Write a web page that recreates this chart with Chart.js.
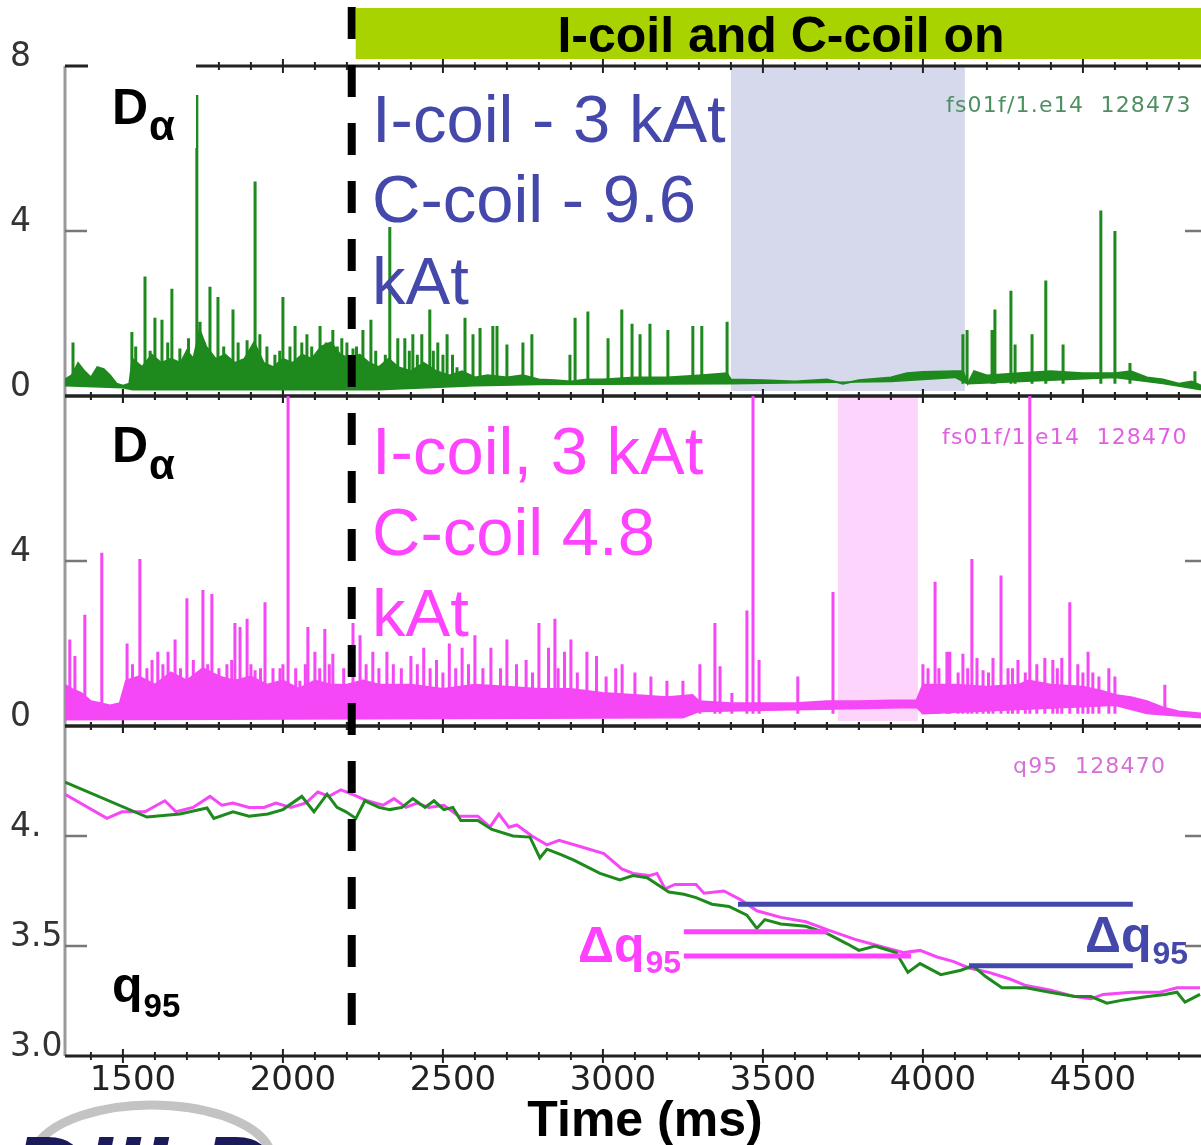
<!DOCTYPE html>
<html>
<head>
<meta charset="utf-8">
<title>D-alpha and q95 with I-coil / C-coil</title>
<script src="https://cdn.jsdelivr.net/npm/chart.js@4.4.1/dist/chart.umd.min.js"></script>
<style>
  body { margin: 0; background: #fff; }
  canvas { display: block; }
</style>
</head>
<body>
<canvas id="coilChart" width="1201" height="1145"></canvas>
<script>
// shared time axis (ms)
const timeRange = [1319, 4869];
const timeTicks = [1500, 2000, 2500, 3000, 3500, 4000, 4500];
const coilOnTime = 2215;

// D-alpha, shot 128473: lower / upper edge of the dense ELM band, then the spikes
const daTopLowT = [1319, 1500, 1530, 2300, 2600, 2800, 3400, 3900, 4100, 4140, 4600, 4750, 4869];
const daTopLowV = [0.25, 0.2, 0.15, 0.15, 0.25, 0.28, 0.3, 0.35, 0.45, 0.3, 0.45, 0.3, 0.15];
const daTopBandT = [1319, 1340, 1360, 1380, 1400, 1420, 1440, 1460, 1480, 1500, 1520, 1530, 1560, 1590, 1620, 1650,
  1680, 1700, 1720, 1740, 1760, 1790, 1820, 1850, 1880, 1910, 1940, 1970, 2000, 2030, 2060, 2090, 2120, 2150, 2180,
  2210, 2240, 2270, 2300, 2330, 2360, 2400, 2440, 2480, 2520, 2560, 2600, 2640, 2700, 2750, 2800, 2850, 2900, 2950,
  3000, 3100, 3200, 3300, 3388, 3400, 3500, 3600, 3700, 3750, 3800, 3900, 3950, 4000, 4100, 4125, 4140, 4160, 4200,
  4300, 4400, 4500, 4600, 4650, 4700, 4750, 4800, 4840, 4869];
const daTopBandV = [0.4, 0.5, 0.8, 0.6, 0.45, 0.7, 0.65, 0.5, 0.3, 0.25, 0.3, 0.9, 0.7, 1.0, 0.8, 0.9,
  0.8, 1.1, 0.9, 1.6, 1.2, 0.9, 1.0, 0.8, 0.9, 1.3, 0.8, 0.7, 0.9, 0.8, 1.0, 0.9, 1.2, 1.3, 1.0,
  0.9, 1.0, 0.8, 0.7, 0.9, 0.7, 0.6, 0.8, 0.6, 0.5, 0.6, 0.45, 0.5, 0.45, 0.5, 0.4, 0.38, 0.35, 0.4,
  0.4, 0.45, 0.45, 0.5, 0.55, 0.4, 0.38, 0.35, 0.4, 0.3, 0.38, 0.45, 0.55, 0.58, 0.6, 0.6, 0.3, 0.6, 0.5,
  0.55, 0.6, 0.55, 0.55, 0.6, 0.45, 0.4, 0.3, 0.35, 0.25];
const daTopSpikeT = [1344, 1528, 1569, 1600, 1622, 1653, 1678, 1731, 1741, 1772, 1797, 1844, 1888, 1913, 1928, 1975,
  2000, 2022, 2038, 2059, 2075, 2116, 2156, 2184, 2219, 2250, 2275, 2334, 2359, 2381, 2406, 2434, 2459, 2484, 2513,
  2544, 2569, 2594, 2616, 2656, 2669, 2700, 2750, 2778, 2897, 2913, 2953, 3016, 3059, 3091, 3116, 3147, 3203, 3281,
  3309, 3388, 4125, 4138, 4216, 4225, 4275, 4288, 4341, 4384, 4438, 4556, 4600, 4647, 4850];
const daTopSpikeV = [1.3, 1.55, 2.9, 1.9, 1.85, 2.6, 1.15, 7.3, 1.8, 2.65, 2.4, 2.1, 1.35, 5.2, 1.5, 1.0,
  2.4, 1.2, 1.7, 1.3, 1.5, 1.7, 1.6, 1.4, 1.15, 1.6, 1.85, 4.1, 1.4, 1.4, 1.5, 1.5, 2.1, 1.3, 1.5,
  0.7, 1.9, 1.5, 1.65, 1.7, 1.7, 1.25, 1.3, 1.5, 1.0, 1.9, 2.05, 1.4, 2.1, 1.75, 1.5, 1.75, 1.6, 1.7,
  1.7, 1.8, 1.5, 1.6, 1.6, 2.1, 2.55, 1.25, 1.5, 2.8, 1.25, 4.5, 4.0, 0.8, 0.6];
// small ELMs inside the band
const daTopSmallT = [1540, 1585, 1640, 1705, 1755, 1815, 1860, 1900, 1950, 1990, 2090, 2135, 2170, 2200, 2230,
  2290, 2320, 2395, 2420, 2470, 2500, 2530];
const daTopSmallV = [1.2, 1.1, 1.3, 1.4, 1.3, 1.2, 1.3, 1.1, 1.2, 1.1, 1.2, 1.3, 1.2, 1.3, 1.2,
  1.1, 1.0, 1.1, 1.0, 1.1, 1.0, 1.0];

// D-alpha, shot 128470 (I-coil 3 kAt, C-coil 4.8 kAt)
const daMidLowT = [1319, 3250, 3300, 3980, 4000, 4600, 4700, 4869];
const daMidLowV = [0.15, 0.2, 0.35, 0.45, 0.3, 0.5, 0.3, 0.2];
const daMidBandT = [1319, 1340, 1370, 1400, 1430, 1460, 1490, 1510, 1550, 1600, 1650, 1700, 1750, 1800, 1850, 1900,
  1950, 2000, 2050, 2100, 2150, 2200, 2250, 2300, 2400, 2500, 2600, 2700, 2800, 2900, 3000, 3100, 3200, 3280, 3300,
  3400, 3500, 3600, 3700, 3800, 3900, 3980, 4000, 4100, 4200, 4300, 4330, 4400, 4500, 4560, 4600, 4650, 4700, 4750,
  4800, 4869];
const daMidBandV = [1.0, 0.9, 0.8, 0.6, 0.55, 0.5, 0.55, 1.1, 1.2, 1.0, 1.3, 1.1, 1.4, 1.2, 1.1, 1.2,
  1.0, 1.1, 0.9, 1.1, 1.0, 1.0, 1.1, 1.0, 1.0, 0.9, 1.0, 0.95, 0.9, 0.9, 0.8, 0.75, 0.7, 0.75, 0.6,
  0.55, 0.55, 0.55, 0.6, 0.6, 0.62, 0.62, 1.0, 1.0, 0.95, 1.0, 1.1, 1.0, 0.95, 0.85, 0.75, 0.7, 0.6, 0.45,
  0.35, 0.3];
const daMidSpikeT = [1334, 1350, 1381, 1434, 1513, 1553, 1591, 1609, 1641, 1663, 1700, 1750, 1778, 1825, 1850, 1866,
  1888, 1913, 1944, 1969, 1991, 2016, 2053, 2078, 2100, 2131, 2156, 2219, 2241, 2281, 2325, 2400, 2440, 2480, 2520,
  2560, 2600, 2650, 2700, 2760, 2800, 2830, 2850, 2880, 2900, 2950, 2980, 3040, 3060, 3303, 3350, 3366, 3403, 3450,
  3469, 3488, 3609, 3719, 4000, 4016, 4038, 4075, 4084, 4125, 4153, 4169, 4188, 4219, 4244, 4266, 4297, 4334, 4356,
  4381, 4406, 4434, 4459, 4484, 4516, 4531, 4581, 4600, 4756];
const daMidSpikeV = [2.1, 1.7, 2.7, 4.2, 2.0, 4.05, 1.6, 1.8, 1.8, 2.1, 3.1, 3.3, 3.2, 1.5, 2.5, 2.4,
  2.6, 1.35, 3.0, 1.4, 1.4, 8.0, 1.1, 2.4, 1.8, 2.35, 1.75, 2.5, 2.2, 1.8, 1.8, 1.7, 1.9, 1.6, 2.0,
  1.9, 2.2, 1.9, 2.1, 1.6, 2.5, 1.9, 2.6, 1.8, 2.1, 1.8, 1.7, 1.4, 1.5, 1.5, 2.5, 1.45, 0.8, 2.8,
  8.0, 1.6, 1.2, 3.25, 1.5, 1.4, 3.5, 1.8, 1.8, 1.75, 4.05, 1.65, 1.35, 1.65, 3.65, 1.4, 1.6, 8.0, 1.5,
  1.65, 1.6, 1.65, 3.0, 1.5, 1.8, 1.3, 1.4, 1.2, 1.0];
const daMidSmallT = [1530, 1575, 1625, 1680, 1720, 1765, 1800, 1840, 1900, 1930, 2000, 2040, 2070, 2115, 2145,
  2190, 2260, 2300, 2345, 2370, 2420, 2460, 2500, 2540, 2580, 2625, 2680, 2730, 2780, 2860, 2920, 3010, 3100,
  3150, 3200, 3250, 4050, 4110, 4140, 4205, 4280, 4320, 4420, 4500, 4550];
const daMidSmallV = [1.5, 1.4, 1.5, 1.4, 1.6, 1.5, 1.4, 1.6, 1.5, 1.4, 1.5, 1.4, 1.5, 1.4, 1.5,
  1.4, 1.5, 1.4, 1.5, 1.4, 1.5, 1.4, 1.3, 1.4, 1.5, 1.4, 1.4, 1.5, 1.3, 1.4, 1.3, 1.2, 1.3,
  1.2, 1.1, 1.1, 1.4, 1.3, 1.4, 1.3, 1.4, 1.3, 1.4, 1.3, 1.2];

// q95 for both shots
const q95T_473 = [1319, 1575, 1678, 1763, 1784, 1844, 1894, 1953, 2000, 2059, 2097, 2138, 2169, 2197, 2228, 2256,
  2300, 2334, 2372, 2406, 2444, 2472, 2503, 2531, 2556, 2609, 2653, 2719, 2772, 2803, 2825, 2869, 2909, 2991, 3053,
  3094, 3138, 3206, 3253, 3291, 3341, 3394, 3450, 3481, 3506, 3556, 3634, 3697, 3763, 3800, 3850, 3916, 3953, 3991,
  4056, 4119, 4156, 4197, 4247, 4322, 4397, 4475, 4525, 4575, 4628, 4703, 4756, 4794, 4819, 4866];
const q95V_473 = [4.245, 4.086, 4.10, 4.127, 4.08, 4.11, 4.09, 4.10, 4.12, 4.18, 4.11, 4.19, 4.13, 4.11, 4.08, 4.16,
  4.13, 4.12, 4.13, 4.17, 4.13, 4.16, 4.12, 4.13, 4.07, 4.07, 4.03, 4.0, 3.995, 3.90, 3.94, 3.915, 3.89, 3.83, 3.80,
  3.82, 3.81, 3.745, 3.735, 3.72, 3.69, 3.68, 3.64, 3.58, 3.62, 3.60, 3.59, 3.56, 3.51, 3.48, 3.50, 3.47, 3.38, 3.42,
  3.37, 3.39, 3.41, 3.36, 3.31, 3.31, 3.29, 3.27, 3.27, 3.24, 3.255, 3.27, 3.28, 3.29, 3.245, 3.28];
const q95T_470 = [1319, 1450, 1497, 1569, 1631, 1666, 1719, 1772, 1809, 1844, 1894, 1941, 1978, 2025, 2072, 2109,
  2144, 2181, 2216, 2263, 2313, 2347, 2384, 2419, 2456, 2503, 2550, 2609, 2647, 2675, 2706, 2731, 2778, 2825, 2863,
  2934, 3003, 3059, 3094, 3144, 3169, 3194, 3225, 3291, 3316, 3378, 3431, 3481, 3556, 3634, 3709, 3788, 3863, 3941,
  3991, 4044, 4094, 4144, 4206, 4272, 4322, 4397, 4475, 4525, 4563, 4653, 4741, 4794, 4866];
const q95V_470 = [4.19, 4.08, 4.11, 4.11, 4.16, 4.11, 4.13, 4.18, 4.14, 4.15, 4.13, 4.13, 4.15, 4.13, 4.15, 4.20,
  4.18, 4.21, 4.19, 4.16, 4.14, 4.17, 4.13, 4.15, 4.13, 4.14, 4.09, 4.09, 4.04, 4.10, 4.04, 4.05, 4.00, 3.96, 3.98,
  3.95, 3.92, 3.85, 3.83, 3.82, 3.83, 3.76, 3.78, 3.78, 3.74, 3.75, 3.71, 3.66, 3.63, 3.61, 3.57, 3.53, 3.50, 3.47,
  3.48, 3.45, 3.43, 3.40, 3.38, 3.35, 3.32, 3.30, 3.27, 3.26, 3.28, 3.29, 3.29, 3.31, 3.31];

// delta-q95 markers (start ms, end ms, level)
const dqBlueStart = [3422, 4144];
const dqBlueEnd = [4656, 4656];
const dqBlueLevel = [3.69, 3.41];
const dqPinkStart = [3253, 3253];
const dqPinkEnd = [3703, 3963];
const dqPinkLevel = [3.565, 3.455];

// shaded comparison windows (ms)
const daTopWindow = [3400, 4131];
const daMidWindow = [3734, 3984];

const GREEN = '#1e8a1e';
const PINK = '#f547f5';
const BLUE = '#4448aa';

function toPoints(ts, vs) {
  return ts.map((t, i) => ({ x: t, y: vs[i] }));
}

// each spike is a vertical stroke from the band base, broken by a null
function spikePoints(ts, vs, base) {
  const pts = [];
  ts.forEach((t, i) => {
    pts.push({ x: t, y: base }, { x: t, y: vs[i] }, { x: t, y: null });
  });
  return pts;
}

function segPoints(starts, ends, levels) {
  const pts = [];
  starts.forEach((s, i) => {
    pts.push({ x: s, y: levels[i] }, { x: ends[i], y: levels[i] }, { x: ends[i], y: null });
  });
  return pts;
}

const lineBase = { pointRadius: 0, tension: 0, spanGaps: false, fill: false };

const datasets = [
  { ...lineBase, data: segPoints(dqBlueStart, dqBlueEnd, dqBlueLevel), yAxisID: 'yBot', borderColor: BLUE, borderWidth: 5 },
  { ...lineBase, data: segPoints(dqPinkStart, dqPinkEnd, dqPinkLevel), yAxisID: 'yBot', borderColor: '#ff40ff', borderWidth: 5 },
  { ...lineBase, data: toPoints(q95T_473, q95V_473), yAxisID: 'yBot', borderColor: GREEN, borderWidth: 3 },
  { ...lineBase, data: toPoints(q95T_470, q95V_470), yAxisID: 'yBot', borderColor: PINK, borderWidth: 3 },

  { ...lineBase, data: toPoints(daTopLowT, daTopLowV), yAxisID: 'yTop', borderColor: GREEN, borderWidth: 1.5 },
  { ...lineBase, data: toPoints(daTopBandT, daTopBandV), yAxisID: 'yTop', borderColor: GREEN, borderWidth: 2,
    fill: '-1', backgroundColor: GREEN },
  { ...lineBase, data: spikePoints(daTopSpikeT, daTopSpikeV, 0.3), yAxisID: 'yTop', borderColor: GREEN, borderWidth: 3 },
  { ...lineBase, data: spikePoints(daTopSmallT, daTopSmallV, 0.3), yAxisID: 'yTop', borderColor: GREEN, borderWidth: 3 },

  { ...lineBase, data: toPoints(daMidLowT, daMidLowV), yAxisID: 'yMid', borderColor: PINK, borderWidth: 1.5 },
  { ...lineBase, data: toPoints(daMidBandT, daMidBandV), yAxisID: 'yMid', borderColor: PINK, borderWidth: 2,
    fill: '-1', backgroundColor: PINK },
  { ...lineBase, data: spikePoints(daMidSpikeT, daMidSpikeV, 0.3), yAxisID: 'yMid', borderColor: PINK, borderWidth: 3 },
  { ...lineBase, data: spikePoints(daMidSmallT, daMidSmallV, 0.3), yAxisID: 'yMid', borderColor: PINK, borderWidth: 3 }
];

const tickFont = { family: 'DejaVu Sans', size: 33 };

function panelAxis(min, max, step, label) {
  return {
    type: 'linear',
    position: 'left',
    stack: 'panels',
    stackWeight: 1,
    min: min,
    max: max,
    grid: { display: false, drawTicks: false },
    border: { display: false },
    ticks: {
      stepSize: step,
      includeBounds: false,
      autoSkip: false,
      crossAlign: 'far',
      labelOffset: -9,
      padding: 0,
      color: '#333',
      font: tickFont,
      callback: label
    },
    afterFit: s => { s.width = 55; }
  };
}

function hline(ctx, x0, x1, y) {
  ctx.beginPath();
  ctx.moveTo(x0, y);
  ctx.lineTo(x1, y);
  ctx.stroke();
}

function vline(ctx, x, y0, y1) {
  ctx.beginPath();
  ctx.moveTo(x, y0);
  ctx.lineTo(x, y1);
  ctx.stroke();
}

// text with a subscript, e.g. D_alpha, q_95
function subText(ctx, main, sub, x, y, size, subSize, subDrop, color) {
  ctx.fillStyle = color;
  ctx.font = 'bold ' + size + 'px "Liberation Sans", Arial, sans-serif';
  ctx.fillText(main, x, y);
  const w = ctx.measureText(main).width;
  ctx.font = 'bold ' + subSize + 'px "Liberation Sans", Arial, sans-serif';
  ctx.fillText(sub, x + w + 1, y + subDrop);
}

const panelDeco = {
  id: 'panelDeco',
  beforeDatasetsDraw(chart) {
    const { ctx, chartArea: a, scales } = chart;
    const xs = scales.x;
    const panels = [scales.yTop, scales.yMid, scales.yBot];
    ctx.save();

    // shaded windows
    const shade = (win, ys, col) => {
      const x0 = xs.getPixelForValue(win[0]);
      const x1 = xs.getPixelForValue(win[1]);
      ctx.fillStyle = col;
      ctx.fillRect(x0, ys.top, x1 - x0, ys.bottom - ys.top - 5);
    };
    shade(daTopWindow, scales.yTop, '#d6d8eb');
    shade(daMidWindow, scales.yMid, '#fdd4fb');

    // left frame
    ctx.strokeStyle = '#9a9a9a';
    ctx.lineWidth = 3;
    vline(ctx, a.left, a.top, a.bottom);

    // panel top/bottom frame lines with time ticks
    ctx.strokeStyle = '#222';
    panels.forEach(ys => {
      [ys.top, ys.bottom].forEach(y => {
        ctx.lineWidth = 3;
        hline(ctx, a.left, a.right, y);
        ctx.lineWidth = 2;
        for (let t = 1400; t <= 4800; t += 100) {
          const px = xs.getPixelForValue(t);
          const len = t % 500 === 0 ? 7 : 4;
          vline(ctx, px, y - len, y + len);
        }
      });
    });

    // inner value ticks on both sides
    ctx.strokeStyle = '#777';
    ctx.lineWidth = 2.5;
    panels.forEach(ys => {
      ys.ticks.forEach(tk => {
        if (tk.value <= ys.min || tk.value >= ys.max) return;
        const py = ys.getPixelForValue(tk.value);
        hline(ctx, a.left, a.left + 22, py);
        hline(ctx, a.right - 16, a.right, py);
      });
    });
    ctx.restore();
  },

  afterDatasetsDraw(chart) {
    const { ctx, scales } = chart;
    const xs = scales.x;
    ctx.save();
    ctx.textBaseline = 'alphabetic';
    ctx.textAlign = 'left';

    // label patch over the top panel
    ctx.fillStyle = '#fff';
    ctx.fillRect(88, 56, 108, 92);
    subText(ctx, 'D', 'α', 112, 124, 50, 42, 16, '#000');
    subText(ctx, 'D', 'α', 112, 462, 50, 42, 17, '#000');
    subText(ctx, 'q', '95', 112, 1002, 50, 33, 15, '#000');

    // coil settings
    ctx.font = '67px "Liberation Sans", Arial, sans-serif';
    ctx.fillStyle = BLUE;
    ctx.fillText('I-coil - 3 kAt', 372, 142);
    ctx.fillText('C-coil - 9.6', 372, 222);
    ctx.fillText('kAt', 372, 304);
    ctx.fillStyle = '#ff44ff';
    ctx.fillText('I-coil, 3 kAt', 372, 474);
    ctx.fillText('C-coil 4.8', 372, 555);
    ctx.fillText('kAt', 372, 636);

    // signal names
    ctx.font = '22px "DejaVu Sans", sans-serif';
    ctx.letterSpacing = '1.2px';
    ctx.fillStyle = '#4e8f62';
    ctx.fillText('fs01f/1.e14  128473', 946, 112);
    ctx.fillStyle = '#e35ee3';
    ctx.fillText('fs01f/1.e14  128470', 942, 444);
    ctx.fillStyle = '#d66fd6';
    ctx.fillText('q95  128470', 1013, 773);
    ctx.letterSpacing = '0px';

    // delta q95 labels
    subText(ctx, 'Δq', '95', 578, 962, 50, 32, 11, '#ff40ff');
    subText(ctx, 'Δq', '95', 1085, 952, 50, 32, 12, BLUE);

    // coil turn-on marker
    const xOn = xs.getPixelForValue(coilOnTime);
    ctx.strokeStyle = '#000';
    ctx.lineWidth = 8;
    ctx.setLineDash([32, 26]);
    vline(ctx, xOn, 7, 1030);
    ctx.setLineDash([]);

    // "coils on" bar
    const barX = xOn + 4;
    ctx.fillStyle = '#a8d300';
    ctx.fillRect(barX, 8, chart.width - barX, 51);
    ctx.fillStyle = '#000';
    ctx.font = 'bold 50px "Liberation Sans", Arial, sans-serif';
    ctx.textAlign = 'center';
    ctx.fillText('I-coil and C-coil on', 781, 52);

    // axis title
    ctx.fillText('Time (ms)', 645, 1136);

    // logo
    ctx.textAlign = 'left';
    ctx.strokeStyle = 'rgba(185,185,185,0.85)';
    ctx.lineWidth = 9;
    ctx.beginPath();
    ctx.ellipse(152, 1160, 120, 55, 0, Math.PI * 1.05, Math.PI * 1.95);
    ctx.stroke();
    ctx.fillStyle = '#1b1b5c';
    ctx.font = 'italic bold 100px "Liberation Sans", Arial, sans-serif';
    ctx.fillText('DIII-D', 12, 1206);
    ctx.restore();
  }
};

new Chart(document.getElementById('coilChart'), {
  type: 'line',
  data: { datasets: datasets },
  options: {
    responsive: false,
    animation: false,
    events: [],
    layout: { padding: { top: 66, left: 10, right: 0, bottom: 0 } },
    plugins: { legend: { display: false }, tooltip: { enabled: false } },
    scales: {
      x: {
        type: 'linear',
        position: 'bottom',
        min: timeRange[0],
        max: timeRange[1],
        grid: { display: false, drawTicks: false },
        border: { display: false },
        ticks: {
          autoSkip: false,
          maxRotation: 0,
          labelOffset: 10,
          padding: 5,
          color: '#222',
          font: { family: 'DejaVu Sans', size: 34 },
          callback: v => String(v)
        },
        afterBuildTicks: s => { s.ticks = timeTicks.map(v => ({ value: v })); },
        afterFit: s => { s.height = 89; }
      },
      // stacked panels are laid out bottom-first in the order listed
      yBot: panelAxis(3.0, 4.5, 0.5, v => (v === 4.5 ? '' : v === 4 ? '4.' : v.toFixed(1))),
      yMid: panelAxis(0, 8, 4, v => (v === 8 ? '' : String(v))),
      yTop: panelAxis(0, 8, 4, v => String(v))
    }
  },
  plugins: [panelDeco]
});
</script>
</body>
</html>
